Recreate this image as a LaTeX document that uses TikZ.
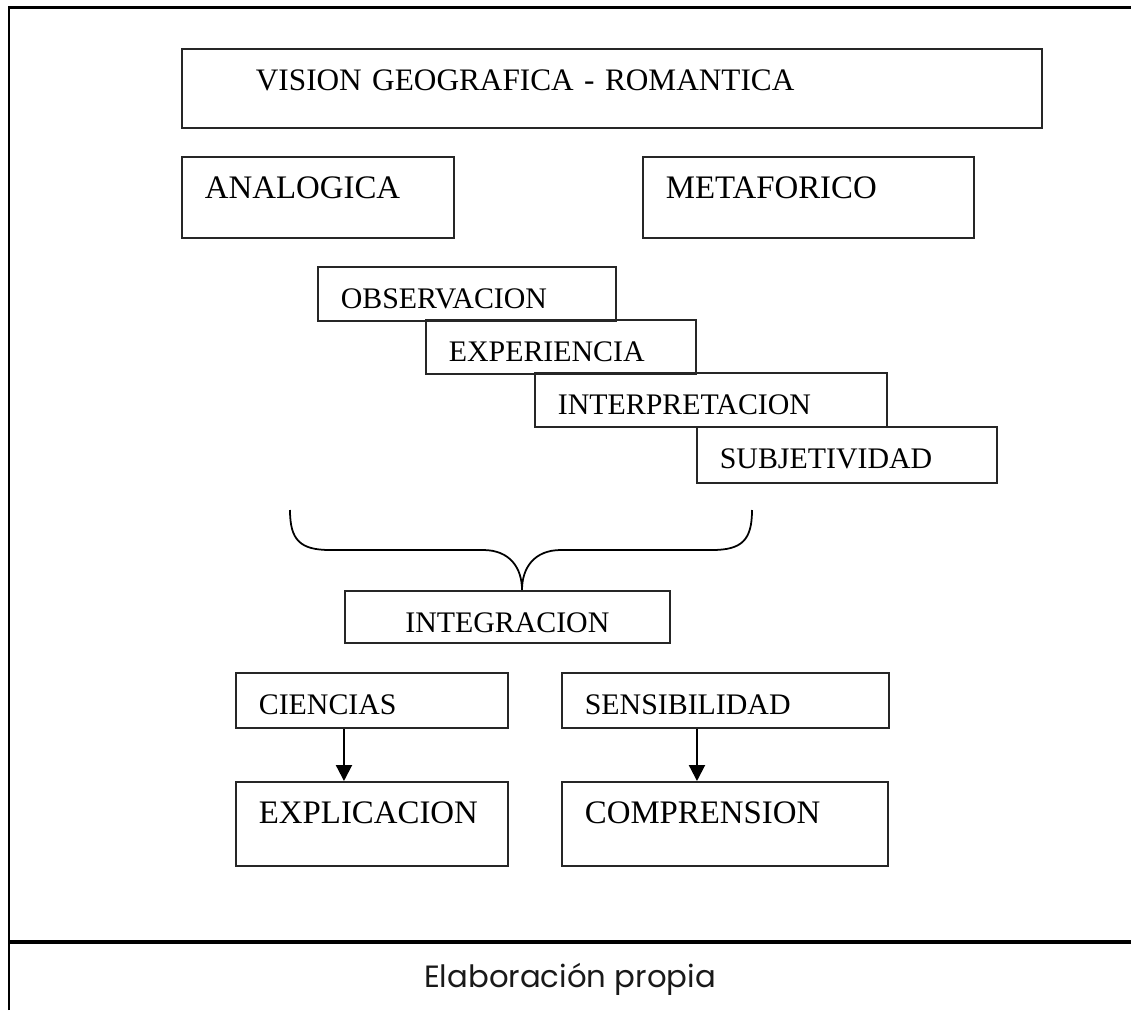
\documentclass[tikz,border=0pt]{standalone}
\usepackage{fontspec}
\setmainfont{Liberation Serif}
\newfontfamily\capfont{Poppins}
\usetikzlibrary{arrows.meta,calc}

\begin{document}
\begin{tikzpicture}[x=0.02cm, y=-0.02cm,
    box/.style={draw=black!85, line width=1pt, anchor=north west, inner ysep=0pt,
      inner xsep=0.46cm, text height=0.83cm, align=left, font=\fontsize{17}{20}\selectfont},
    thin/.style={box, text depth=0.26cm},
    tall/.style={box, text depth=0.8cm, font=\fontsize{18.7}{22}\selectfont},
    arr/.style={-{Triangle[length=0.32cm, width=0.32cm]}, line width=1.2pt}]
    \useasboundingbox (0,0) rectangle (1131,1010);
    % marco
    \draw[line width=0.06cm] (9,1010) -- (9,8) -- (1131,8);
    \draw[line width=0.09cm] (9,942) -- (1131,942);
    \node[font=\capfont\fontsize{17.5}{20}\selectfont, anchor=base, text=black!90] (cap) at (570,987) {Elaboración propia};

    \node[tall, inner xsep=1.48cm, text width=14.24cm, text depth=0.76cm, font=\fontsize{17.8}{21}\selectfont] (vis) at (181,48) {VISION GEOGRAFICA - ROMANTICA};
    \node[tall, text width=4.52cm] (ana) at (181,156) {ANALOGICA};
    \node[tall, text width=5.70cm] (met) at (642,156) {METAFORICO};

    \node[thin, text width=5.04cm] (obs) at (317,266) {OBSERVACION};
    \node[thin, text width=4.48cm] (exp) at (425,319) {EXPERIENCIA};
    \node[thin, text width=6.12cm] (int) at (534,372) {INTERPRETACION};
    \node[thin, text width=5.08cm, text depth=0.3cm] (sub) at (696,426) {SUBJETIVIDAD};

    % llave
    \draw[line width=1pt] (290,510) .. controls (290,540) and (300,550) .. (330,550) -- (483,550)
        .. controls (510,550) and (522,568) .. (522,590)
        .. controls (522,568) and (534,550) .. (561,550) -- (712,550)
        .. controls (742,550) and (752,540) .. (752,510);

    \node[thin, text width=5.58cm, align=center, text depth=0.22cm] (intg) at (344,590) {INTEGRACION};

    \node[thin, text width=4.52cm, text depth=0.28cm] (cie) at (235,672) {CIENCIAS};
    \node[thin, text width=5.62cm, text depth=0.28cm] (sen) at (561,672) {SENSIBILIDAD};
    \node[tall, text width=4.52cm, text depth=0.86cm] (expl) at (235,781) {EXPLICACION};
    \node[tall, text width=5.60cm, text depth=0.86cm] (com) at (561,781) {COMPRENSION};

    \draw[arr] ([xshift=2.18cm]cie.south west) -- ([xshift=2.18cm]expl.north west);
    \draw[arr] ([xshift=2.72cm]sen.south west) -- ([xshift=2.72cm]com.north west);
\end{tikzpicture}
\end{document}
